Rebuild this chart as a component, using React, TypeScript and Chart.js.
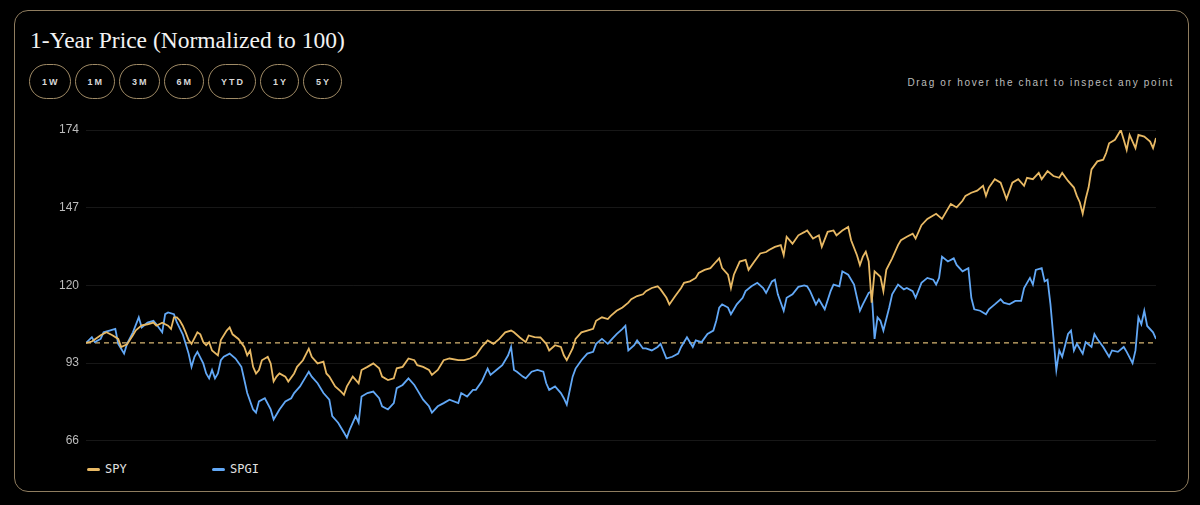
import { useEffect, useRef } from "react";
import { Chart, registerables } from "chart.js";

Chart.register(...registerables);

const TITLE = "1-Year Price (Normalized to 100)";
const RANGES = ["1W", "1M", "3M", "6M", "YTD", "1Y", "5Y"];
const HINT = "Drag or hover the chart to inspect any point";
const Y_TICKS = [66, 93, 120, 147, 174];
const BASELINE = 100;
const SERIES_NAMES = ["SPY", "SPGI"];

// calendar-day offset from start of the 1-year window
const SPY_DAYS = [
  0, 2, 5, 7, 9, 11, 12, 14, 16, 17, 19, 21, 23, 24, 26, 28, 29, 30, 31, 32, 33, 34, 35, 36, 38, 39, 40, 41, 42, 43,
  45, 46, 48, 49, 50, 52, 54, 55, 56, 57, 58, 59, 60, 62, 63, 64, 65, 66, 68, 69, 71, 72, 74, 76, 77, 79, 81, 82, 83,
  85, 87, 88, 89, 91, 93, 94, 96, 98, 100, 101, 103, 105, 106, 108, 110, 112, 113, 115, 117, 118, 120, 122, 124, 127,
  129, 131, 133, 135, 137, 139, 141, 143, 145, 146, 148, 150, 151, 153, 155, 157, 158, 160, 162, 163, 164, 166, 167,
  169, 171, 173, 174, 176, 178, 179, 181, 183, 185, 186, 188, 190, 191, 193, 195, 196, 198, 199, 201, 203, 204, 206,
  208, 209, 211, 213, 215, 216, 217, 219, 220, 221, 223, 225, 226, 228, 230, 232, 233, 235, 237, 238, 239, 241, 243,
  245, 246, 248, 250, 251, 253, 255, 256, 258, 260, 261, 263, 264, 265, 266, 267, 268, 269, 271, 272, 273, 275, 277,
  278, 280, 282, 283, 285, 287, 289, 290, 292, 294, 295, 297, 299, 300, 302, 304, 306, 307, 308, 310, 312, 313, 314,
  316, 318, 320, 321, 323, 325, 326, 328, 330, 332, 333, 335, 337, 338, 339, 340, 341, 342, 343, 345, 347, 348, 349,
  351, 353, 354, 355, 356, 358, 359, 361, 363, 364, 365,
];
const SPY = [
  100, 100.5, 102.7, 103.7, 102.7, 101.4, 98.6, 99.5, 102.7, 104.4, 106.1, 106.5, 107.1, 106, 107, 106, 104.9, 108.9,
  108.9, 107.8, 106, 103.7, 101, 99.7, 103.7, 103, 100.3, 99.2, 100.3, 97.4, 95.7, 101, 104.3, 105.4, 103, 101.4, 98.6,
  95.7, 97.4, 91.7, 89.4, 90.6, 94, 95.2, 92.9, 86.6, 88.3, 89.4, 88.3, 86.6, 89.4, 91.7, 94, 98, 95.2, 92.9, 93.5,
  89.4, 88.3, 84.9, 83.1, 82, 84.9, 88.3, 86, 90.6, 91.7, 92.9, 91.2, 88.3, 87.1, 87.7, 91.2, 91.7, 94.6, 94, 92.3,
  91.7, 90.6, 88.9, 90.6, 94, 94.6, 94, 94, 94.6, 95.7, 98.6, 100.9, 99.7, 101.4, 103.7, 104.3, 103.7, 101.9, 100.3,
  102.6, 102, 101.9, 99.7, 97.4, 99.2, 98.6, 95.7, 94, 98.1, 101.4, 103.7, 104.3, 104.9, 107.7, 108.9, 108.3, 109.4,
  111.2, 112.3, 114, 115.2, 116.3, 116.9, 118, 119.1, 119.7, 118.6, 115.7, 113.4, 116.3, 119.1, 120.9, 121.4, 122.6,
  124.3, 125.4, 126, 128.3, 129.4, 126, 123.7, 119.1, 123.7, 128.3, 128.9, 125.4, 128.3, 131.1, 131.6, 132.3, 133.4,
  134, 130.5, 136.9, 134.5, 137.4, 138.5, 139.1, 136.3, 137.4, 133.4, 138.6, 139.1, 137.4, 139.1, 140.3, 135.7, 130.5,
  127.1, 130, 131.7, 128.3, 114, 124.9, 123, 118, 125.4, 129.4, 134, 135.7, 136.9, 138, 136.3, 140.9, 143.1, 144.3,
  144.9, 143.1, 146.6, 148.3, 147.1, 149.4, 151.1, 152.2, 152.9, 154.6, 151.1, 154, 156.9, 155.7, 152.9, 150, 155.7,
  156.9, 154.6, 157.4, 156.9, 159.1, 156.9, 159.7, 158, 157.4, 159.1, 156.3, 154, 151.1, 148.9, 144.9, 150, 154, 160.3,
  163.1, 163.7, 166, 169.4, 170.6, 174, 170.6, 167.1, 172.3, 167.7, 172.3, 171.7, 170, 167.7, 171.2,
];

const SPGI_DAYS = [
  0, 2, 3, 5, 6, 8, 10, 11, 13, 14, 16, 18, 19, 21, 23, 24, 26, 27, 28, 30, 31, 33, 34, 35, 36, 37, 38, 40, 41, 42,
  43, 44, 45, 46, 47, 49, 51, 53, 54, 55, 57, 58, 59, 61, 63, 64, 66, 68, 70, 71, 73, 75, 76, 77, 79, 81, 83, 84, 86,
  88, 89, 90, 92, 93, 94, 96, 98, 100, 101, 103, 105, 106, 108, 110, 112, 113, 115, 117, 118, 120, 122, 124, 127, 128,
  130, 132, 133, 135, 137, 138, 140, 142, 144, 145, 146, 147, 149, 150, 152, 154, 156, 157, 158, 160, 162, 163, 164,
  166, 167, 169, 171, 173, 174, 176, 178, 179, 181, 183, 184, 185, 187, 188, 190, 191, 193, 195, 196, 198, 200, 202,
  203, 205, 207, 208, 210, 212, 214, 215, 216, 217, 219, 220, 222, 224, 225, 227, 229, 231, 232, 234, 235, 236, 238,
  239, 241, 243, 245, 246, 247, 249, 250, 252, 254, 255, 257, 258, 260, 262, 263, 264, 265, 267, 268, 269, 270, 271,
  272, 274, 275, 277, 279, 280, 282, 283, 285, 287, 289, 290, 291, 292, 294, 296, 297, 299, 301, 302, 303, 305, 307,
  308, 310, 312, 313, 315, 317, 319, 320, 322, 323, 324, 326, 327, 328, 329, 330, 331, 332, 333, 335, 336, 337, 338,
  340, 341, 343, 344, 345, 347, 349, 350, 352, 354, 355, 357, 358, 359, 360, 361, 362, 364, 365,
];
const SPGI = [
  100, 102, 100.3, 101.4, 103.7, 104.3, 104.9, 99.7, 96.3, 99.7, 103.7, 108.9, 105.4, 107.1, 107.7, 106.5, 103.7, 110,
  110.6, 110, 107.1, 103, 99.7, 96.3, 91.7, 95.2, 96.9, 92.9, 89.4, 87.7, 90.6, 87.7, 89.4, 94, 95.2, 96.3, 94.6, 91.7,
  87.2, 82.6, 76.9, 75.8, 79.7, 80.8, 76.9, 73.4, 76.9, 79.7, 80.8, 82.6, 84.9, 88.3, 90, 88.3, 86, 82.6, 80.3, 74.6,
  72.3, 68.9, 67.1, 70, 74.6, 72.3, 81.4, 82.6, 83.1, 80.8, 78, 76.9, 79.1, 84.3, 85.4, 87.7, 85.4, 83.7, 80.3, 78,
  75.8, 78, 79.1, 80.3, 79.1, 82.6, 81.4, 83.7, 83.7, 86.6, 91.1, 88.9, 90.6, 92.3, 95.7, 98.6, 90.6, 90, 88.3, 87.7,
  90, 90.6, 90, 86, 83.7, 84.9, 82.6, 80.8, 78.6, 88.3, 91.1, 94, 96.3, 96.9, 99.7, 101.4, 99.7, 100.9, 103.1, 104.9,
  106, 97.4, 99.2, 100.9, 98.1, 98.1, 97.4, 98.6, 99.7, 94.6, 95.2, 96.3, 98.6, 102, 98.6, 100.9, 100.3, 103.1, 104.3,
  107.7, 112.3, 113.4, 112.3, 110, 113.4, 115.7, 118, 119.7, 120.9, 119.1, 117.4, 121.4, 122, 116.9, 111.2, 115.7,
  116.9, 119.5, 120, 119.7, 118, 113.4, 115.2, 111.7, 118, 120.3, 119.7, 124.9, 123.7, 120.3, 115.7, 111.2, 113.4,
  117.4, 118, 101.4, 108.9, 107.7, 104.3, 112.3, 116.9, 120.3, 118.6, 119.1, 118, 115.7, 120.9, 122.6, 122, 120.3,
  122.6, 130, 128.3, 129.4, 127.1, 124.9, 126, 115.7, 111.7, 111.2, 110, 111.7, 113.4, 115.2, 114, 113.4, 114.6, 114.6,
  119.1, 122.6, 120.3, 125.4, 126, 121.4, 122, 113.4, 102, 90.6, 97.4, 95.2, 103.1, 104.3, 97.4, 99.7, 96.3, 100.3,
  98.6, 103.1, 101.4, 98.6, 95.2, 97.4, 96.9, 98.6, 96.9, 93, 97.4, 108.9, 106.5, 111.2, 105.9, 103.7, 101.4,
];

const GOLD = "#e8b964";
const BLUE = "#62a8f6";
const SERIES_COLORS = [GOLD, BLUE];

export default function App() {
  const canvasRef = useRef<HTMLCanvasElement | null>(null);

  useEffect(() => {
    const baselinePlugin = {
      id: "baseline",
      beforeDatasetsDraw(chart: any) {
        const { ctx, chartArea, scales } = chart;
        const y = scales.y.getPixelForValue(BASELINE);
        ctx.save();
        ctx.strokeStyle = "rgba(240, 202, 128, 0.9)";
        ctx.lineWidth = 1.2;
        ctx.setLineDash([5, 4]);
        ctx.beginPath();
        ctx.moveTo(chartArea.left, y);
        ctx.lineTo(chartArea.right, y);
        ctx.stroke();
        ctx.restore();
      },
    };

    const chart = new Chart(canvasRef.current as HTMLCanvasElement, {
      type: "line",
      data: {
        datasets: [
          {
            label: SERIES_NAMES[0],
            data: SPY_DAYS.map((d, i) => ({ x: d, y: SPY[i] })),
            borderColor: GOLD,
            borderWidth: 1.8,
            pointRadius: 0,
            tension: 0,
          },
          {
            label: SERIES_NAMES[1],
            data: SPGI_DAYS.map((d, i) => ({ x: d, y: SPGI[i] })),
            borderColor: BLUE,
            borderWidth: 1.8,
            pointRadius: 0,
            tension: 0,
          },
        ],
      },
      options: {
        animation: false,
        responsive: true,
        maintainAspectRatio: false,
        layout: { padding: { top: 15, right: 14, bottom: 10, left: 0 } },
        plugins: { legend: { display: false }, tooltip: { enabled: false } },
        scales: {
          x: { type: "linear", min: 0, max: 365, display: false },
          y: {
            min: Y_TICKS[0],
            max: Y_TICKS[Y_TICKS.length - 1],
            afterFit(scale: any) {
              scale.width = 56;
            },
            afterBuildTicks(scale: any) {
              scale.ticks = Y_TICKS.map((v) => ({ value: v }));
            },
            border: { display: false },
            grid: { color: "rgba(255,255,255,0.09)", drawTicks: false, lineWidth: 1 },
            ticks: {
              color: "#bcbcbc",
              font: { family: "Liberation Sans", size: 12 },
              padding: 7,
            },
          },
        },
      } as any,
      plugins: [baselinePlugin],
    });
    return () => chart.destroy();
  }, []);

  return (
    <div
      style={{
        position: "fixed",
        left: 0,
        top: 0,
        width: 1200,
        height: 505,
        background: "#000",
        overflow: "hidden",
      }}
    >
      <div
        style={{
          position: "absolute",
          left: 14,
          top: 10,
          width: 1175,
          height: 482,
          boxSizing: "border-box",
          border: "1.5px solid #8f7d5f",
          borderRadius: 14,
          background: "#000",
        }}
      />
      <div
        style={{
          position: "absolute",
          left: 30,
          top: 28,
          fontFamily: "'Liberation Serif', serif",
          fontSize: 23.5,
          lineHeight: "24px",
          color: "#f2f2f2",
          whiteSpace: "nowrap",
        }}
      >
        {TITLE}
      </div>
      <div style={{ position: "absolute", left: 29, top: 64, display: "flex", gap: 4 }}>
        {RANGES.map((r) => (
          <div
            key={r}
            style={{
              height: 35,
              boxSizing: "border-box",
              border: "1.5px solid #a08b66",
              borderRadius: 18,
              padding: "0 10px 0 12px",
              display: "flex",
              alignItems: "center",
              justifyContent: "center",
              fontFamily: "'Liberation Sans', sans-serif",
              fontWeight: 700,
              fontSize: 9,
              letterSpacing: 2,
              color: "#d8d8d8",
            }}
          >
            {r}
          </div>
        ))}
      </div>
      <div
        style={{
          position: "absolute",
          right: 26,
          top: 77,
          fontFamily: "'Liberation Sans', sans-serif",
          fontSize: 10,
          lineHeight: "12px",
          letterSpacing: 1.7,
          color: "#bdbdbd",
          whiteSpace: "nowrap",
        }}
      >
        {HINT}
      </div>
      <div style={{ position: "absolute", left: 30, top: 115, width: 1140, height: 340 }}>
        <canvas ref={canvasRef} />
      </div>
      {SERIES_NAMES.map((name, i) => (
        <div
          key={name}
          style={{
            position: "absolute",
            left: 87 + i * 125,
            top: 461,
            height: 16,
            display: "flex",
            alignItems: "center",
            gap: 5,
            fontFamily: "'DejaVu Sans Mono', monospace",
            fontSize: 12,
            color: "#e0e0e0",
          }}
        >
          <span
            style={{
              display: "inline-block",
              width: 13,
              height: 3,
              borderRadius: 2,
              background: SERIES_COLORS[i],
            }}
          />
          <span>{name}</span>
        </div>
      ))}
    </div>
  );
}
